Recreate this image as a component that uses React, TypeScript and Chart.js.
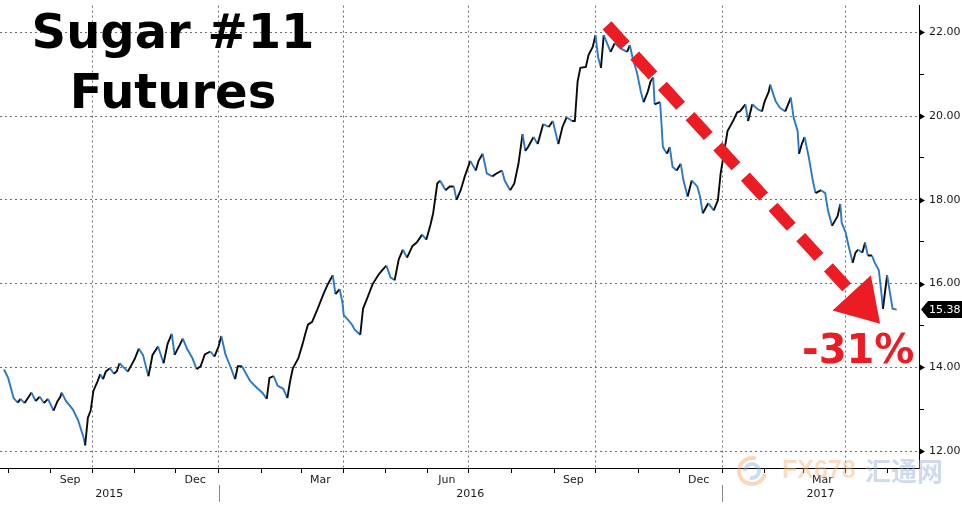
import React, { useEffect, useRef } from 'react';
import { Chart, registerables } from 'chart.js';

Chart.register(...registerables);

// ---- data (x = days since 1 Aug 2015, y = price, US cents/lb) ----
const DAYS = [-3,0,4,7,9,12,15,17,20,23,26,29,33,36,38,39,42,47,51,55,56,58,60,62,65,67,69,71,74,77,79,81,84,87,90,92,95,98,102,105,109,113,116,119,121,125,127,130,134,137,140,143,147,150,153,155,158,161,165,167,170,174,176,181,185,188,190,193,196,200,203,205,207,211,214,216,218,221,225,229,232,236,238,241,243,244,247,250,252,256,258,262,265,269,272,275,278,281,284,287,290,294,297,301,304,307,309,312,314,318,321,324,326,329,332,336,340,342,345,348,352,355,359,361,365,368,371,374,376,378,382,385,389,393,396,400,403,406,410,412,414,416,420,422,425,427,429,431,433,436,438,441,445,450,452,454,457,460,462,465,467,469,470,474,475,476,479,481,483,486,489,491,494,497,501,503,505,509,513,516,518,520,523,527,530,532,536,538,541,545,548,550,553,554,558,561,565,569,571,574,575,577,579,582,585,587,591,594,596,599,603,605,606,609,611,614,616,618,621,623,625,628,630,633,635,636,639,641,643,646];
const PRICES = [13.95,13.75,13.27,13.16,13.25,13.15,13.30,13.40,13.20,13.30,13.15,13.25,12.97,13.20,13.30,13.40,13.20,13.00,12.73,12.31,12.14,12.80,12.97,13.44,13.67,13.84,13.72,13.90,13.98,13.85,13.91,14.10,14.00,13.90,14.08,14.20,14.45,14.30,13.79,14.30,14.50,14.10,14.57,14.80,14.30,14.55,14.69,14.45,14.22,13.96,14.03,14.31,14.38,14.26,14.50,14.75,14.31,14.07,13.72,14.03,14.03,13.79,13.67,13.51,13.39,13.25,13.75,13.79,13.56,13.49,13.27,13.67,13.98,14.22,14.55,14.80,15.02,15.09,15.40,15.73,15.96,16.20,15.75,15.87,15.56,15.25,15.14,15.02,14.90,14.78,15.40,15.73,15.99,16.20,16.32,16.43,16.15,16.08,16.58,16.81,16.62,16.90,16.98,17.17,17.05,17.40,17.68,18.39,18.46,18.23,18.32,18.32,18.00,18.23,18.56,18.93,18.70,18.93,19.10,18.63,18.56,18.63,18.70,18.46,18.23,18.39,18.86,19.57,19.17,19.26,19.50,19.33,19.81,19.74,19.88,19.33,19.74,19.97,19.88,19.88,20.82,21.15,21.17,21.46,21.65,21.93,21.39,21.15,21.93,21.69,21.53,21.74,21.62,21.53,21.69,21.39,21.06,20.58,20.33,20.58,20.82,20.92,20.28,20.33,19.81,19.26,19.10,19.26,18.79,18.70,18.86,18.46,18.08,18.46,18.32,18.08,17.68,17.92,17.75,17.99,18.63,19.03,19.64,19.88,20.09,20.11,20.28,19.88,20.28,20.16,20.11,20.35,20.58,20.75,20.35,20.20,20.11,20.44,19.97,19.64,19.10,19.33,19.50,19.03,18.46,18.16,18.23,18.16,17.75,17.38,17.61,17.90,17.45,17.21,16.90,16.50,16.74,16.81,16.74,16.98,16.67,16.67,16.50,16.32,15.73,15.40,16.20,15.80,15.40,15.38];

const MONTH_STARTS = [0,31,61,92,122,153,184,213,244,274,305,335,366,397,427,458,488,519,550,578,609,639];
const QUARTER_STARTS = [61,153,244,335,427,519,609];
const MONTH_LABELS = ['Sep','Dec','Mar','Jun','Sep','Dec','Mar'];
const MONTH_LABEL_DAYS = [45,136,227,319,411,502,592];
const YEAR_LABELS = ['2015','2016','2017'];
const YEAR_STARTS = [153,519];
const Y_TICKS = [12,13,14,15,16,17,18,19,20,21,22];
const X_MIN = -5.9;
const X_MAX = 662.2;
const Y_MIN = 11.6;
const Y_MAX = 22.637;
const LAST_PRICE = 15.38;
const TITLE_LINES = ['Sugar #11','Futures'];
const CHANGE_LABEL = '-31%';
const CHANGE_POS = { x: 618, y: 14.1 };
const ARROW_FROM = { x: 435.4, y: 22.165 };
const ARROW_TO = { x: 633.9, y: 15.04 };
const WATERMARK = ['FX678', '汇通网'];

const BLUE = '#2b78c8';
const BLACK = '#0a0a0a';
const RED = '#ec1c24';
const GRID = '#6f6f6f';
const CLEAR = 'rgba(0,0,0,0)';

const decorPlugin = {
  id: 'decor',
  afterDraw(chart: any) {
    const { ctx, chartArea, scales } = chart;
    const xs = scales.x;
    const ys = scales.y;
    const R = chartArea.right;
    ctx.save();

    // major tick arrow markers on the y axis
    ctx.fillStyle = '#000';
    Y_TICKS.filter((v) => v % 2 === 0).forEach((v) => {
      const py = Math.round(ys.getPixelForValue(v)) + 0.5;
      ctx.beginPath();
      ctx.moveTo(R, py - 3.5);
      ctx.lineTo(R + 6, py);
      ctx.lineTo(R, py + 3.5);
      ctx.closePath();
      ctx.fill();
    });

    // year labels and separators
    const bounds = [chartArea.left, ...YEAR_STARTS.map((d) => xs.getPixelForValue(d)), R];
    ctx.font = '11px "DejaVu Sans"';
    ctx.fillStyle = '#1a1a1a';
    ctx.textAlign = 'center';
    ctx.textBaseline = 'middle';
    YEAR_LABELS.forEach((t, i) => ctx.fillText(t, (bounds[i] + bounds[i + 1]) / 2, chartArea.bottom + 26));
    ctx.strokeStyle = '#888';
    ctx.lineWidth = 1;
    YEAR_STARTS.forEach((d) => {
      const px = Math.round(xs.getPixelForValue(d)) + 0.5;
      ctx.beginPath();
      ctx.moveTo(px, chartArea.bottom + 17);
      ctx.lineTo(px, chartArea.bottom + 34);
      ctx.stroke();
    });

    // last price tag
    const lp = ys.getPixelForValue(LAST_PRICE);
    ctx.fillStyle = '#000';
    ctx.beginPath();
    ctx.moveTo(R + 2, lp);
    ctx.lineTo(R + 9, lp - 8.5);
    ctx.lineTo(chart.width, lp - 8.5);
    ctx.lineTo(chart.width, lp + 8.5);
    ctx.lineTo(R + 9, lp + 8.5);
    ctx.closePath();
    ctx.fill();
    ctx.fillStyle = '#fff';
    ctx.textAlign = 'left';
    ctx.font = '11px "DejaVu Sans"';
    ctx.fillText(LAST_PRICE.toFixed(2), R + 10, lp + 0.5);

    // title
    ctx.fillStyle = '#000';
    ctx.textAlign = 'center';
    ctx.textBaseline = 'alphabetic';
    ctx.font = 'bold 48px "DejaVu Sans"';
    ctx.fillText(TITLE_LINES[0], 173, 48);
    ctx.fillText(TITLE_LINES[1], 173, 108);

    // red dashed arrow
    const sx = xs.getPixelForValue(ARROW_FROM.x);
    const sy = ys.getPixelForValue(ARROW_FROM.y);
    const tx = xs.getPixelForValue(ARROW_TO.x);
    const ty = ys.getPixelForValue(ARROW_TO.y);
    const len = Math.hypot(tx - sx, ty - sy);
    const ux = (tx - sx) / len;
    const uy = (ty - sy) / len;
    const headLen = 42;
    const headHalf = 26;
    const bx = tx - ux * headLen;
    const by = ty - uy * headLen;
    ctx.strokeStyle = RED;
    ctx.lineWidth = 12;
    ctx.lineCap = 'butt';
    ctx.setLineDash([27, 14]);
    ctx.beginPath();
    ctx.moveTo(sx, sy);
    ctx.lineTo(bx - ux * 6, by - uy * 6);
    ctx.stroke();
    ctx.setLineDash([]);
    ctx.fillStyle = RED;
    ctx.beginPath();
    ctx.moveTo(tx, ty);
    ctx.lineTo(bx - uy * headHalf, by + ux * headHalf);
    ctx.lineTo(bx + uy * headHalf, by - ux * headHalf);
    ctx.closePath();
    ctx.fill();

    // change label
    ctx.font = 'bold 40px "DejaVu Sans"';
    ctx.textAlign = 'center';
    ctx.fillText(CHANGE_LABEL, xs.getPixelForValue(CHANGE_POS.x), ys.getPixelForValue(CHANGE_POS.y));

    // watermark
    ctx.globalAlpha = 0.45;
    ctx.lineWidth = 4;
    ctx.strokeStyle = '#f3a566';
    ctx.beginPath();
    ctx.arc(752, 471, 13, 0.2, Math.PI * 1.6);
    ctx.stroke();
    ctx.strokeStyle = '#8fb0e0';
    ctx.beginPath();
    ctx.arc(752, 471, 7, Math.PI, Math.PI * 2.6);
    ctx.stroke();
    ctx.textAlign = 'left';
    ctx.textBaseline = 'middle';
    ctx.fillStyle = '#f3b27a';
    ctx.font = 'bold 25px "Liberation Sans"';
    ctx.fillText(WATERMARK[0], 782, 471);
    ctx.fillStyle = '#94acd6';
    ctx.font = 'bold 26px "Noto Sans CJK SC"';
    ctx.fillText(WATERMARK[1], 865, 471);
    ctx.restore();
  },
};

export default function App() {
  const ref = useRef<HTMLCanvasElement>(null);

  useEffect(() => {
    document.body.style.margin = '0';
    const canvas = ref.current;
    if (!canvas) return;
    Chart.defaults.font.family = '"DejaVu Sans", sans-serif';
    const chart = new Chart(canvas, {
      type: 'line',
      data: {
        datasets: [
          {
            data: DAYS.map((d, i) => ({ x: d, y: PRICES[i] })),
            borderWidth: 1.9,
            pointRadius: 0,
            tension: 0,
            borderColor: BLACK,
            segment: {
              borderColor: (c: any) => (c.p1.parsed.y < c.p0.parsed.y ? BLUE : BLACK),
            },
          },
        ],
      },
      options: {
        responsive: false,
        animation: false,
        devicePixelRatio: 1,
        layout: { padding: 0 },
        plugins: { legend: { display: false }, tooltip: { enabled: false }, title: { display: false } },
        scales: {
          x: {
            type: 'linear',
            position: 'bottom',
            min: X_MIN,
            max: X_MAX,
            bounds: 'data',
            afterBuildTicks: (s: any) => {
              s.ticks = [...MONTH_STARTS, ...MONTH_LABEL_DAYS]
                .sort((a, b) => a - b)
                .map((v) => ({ value: v }));
            },
            afterFit: (s: any) => {
              s.height = 39;
            },
            ticks: {
              autoSkip: false,
              maxRotation: 0,
              minRotation: 0,
              padding: 1,
              color: '#1a1a1a',
              font: { size: 11 },
              callback: (v: any) => {
                const i = MONTH_LABEL_DAYS.indexOf(v);
                return i >= 0 ? MONTH_LABELS[i] : '';
              },
            },
            grid: {
              color: (c: any) => (c.tick && QUARTER_STARTS.includes(c.tick.value) ? GRID : CLEAR),
              tickColor: (c: any) => (c.tick && MONTH_STARTS.includes(c.tick.value) ? '#000' : CLEAR),
              tickLength: 5,
              tickBorderDash: [],
              lineWidth: 1,
            },
            border: { display: true, color: '#000', width: 1, dash: [2, 3] },
          },
          y: {
            type: 'linear',
            position: 'right',
            min: Y_MIN,
            max: Y_MAX,
            bounds: 'data',
            afterBuildTicks: (s: any) => {
              s.ticks = Y_TICKS.map((v) => ({ value: v }));
            },
            afterFit: (s: any) => {
              s.width = 43;
            },
            ticks: {
              padding: 5,
              color: '#1a1a1a',
              font: { size: 11, lineHeight: 0.1 },
              callback: (v: any) => (v % 2 === 0 ? Number(v).toFixed(2) : ''),
            },
            grid: {
              color: (c: any) => (c.tick && c.tick.value % 2 === 0 ? GRID : CLEAR),
              tickColor: (c: any) => (c.tick && c.tick.value % 2 === 0 ? CLEAR : '#000'),
              tickLength: 5,
              tickBorderDash: [],
              lineWidth: 1,
            },
            border: { display: true, color: '#000', width: 1, dash: [2, 3] },
          },
        },
      },
      plugins: [decorPlugin],
    } as any);
    return () => chart.destroy();
  }, []);

  return (
    <div style={{ width: 962, height: 507, background: '#fff' }}>
      <canvas ref={ref} width={962} height={507} style={{ display: 'block' }} />
    </div>
  );
}
